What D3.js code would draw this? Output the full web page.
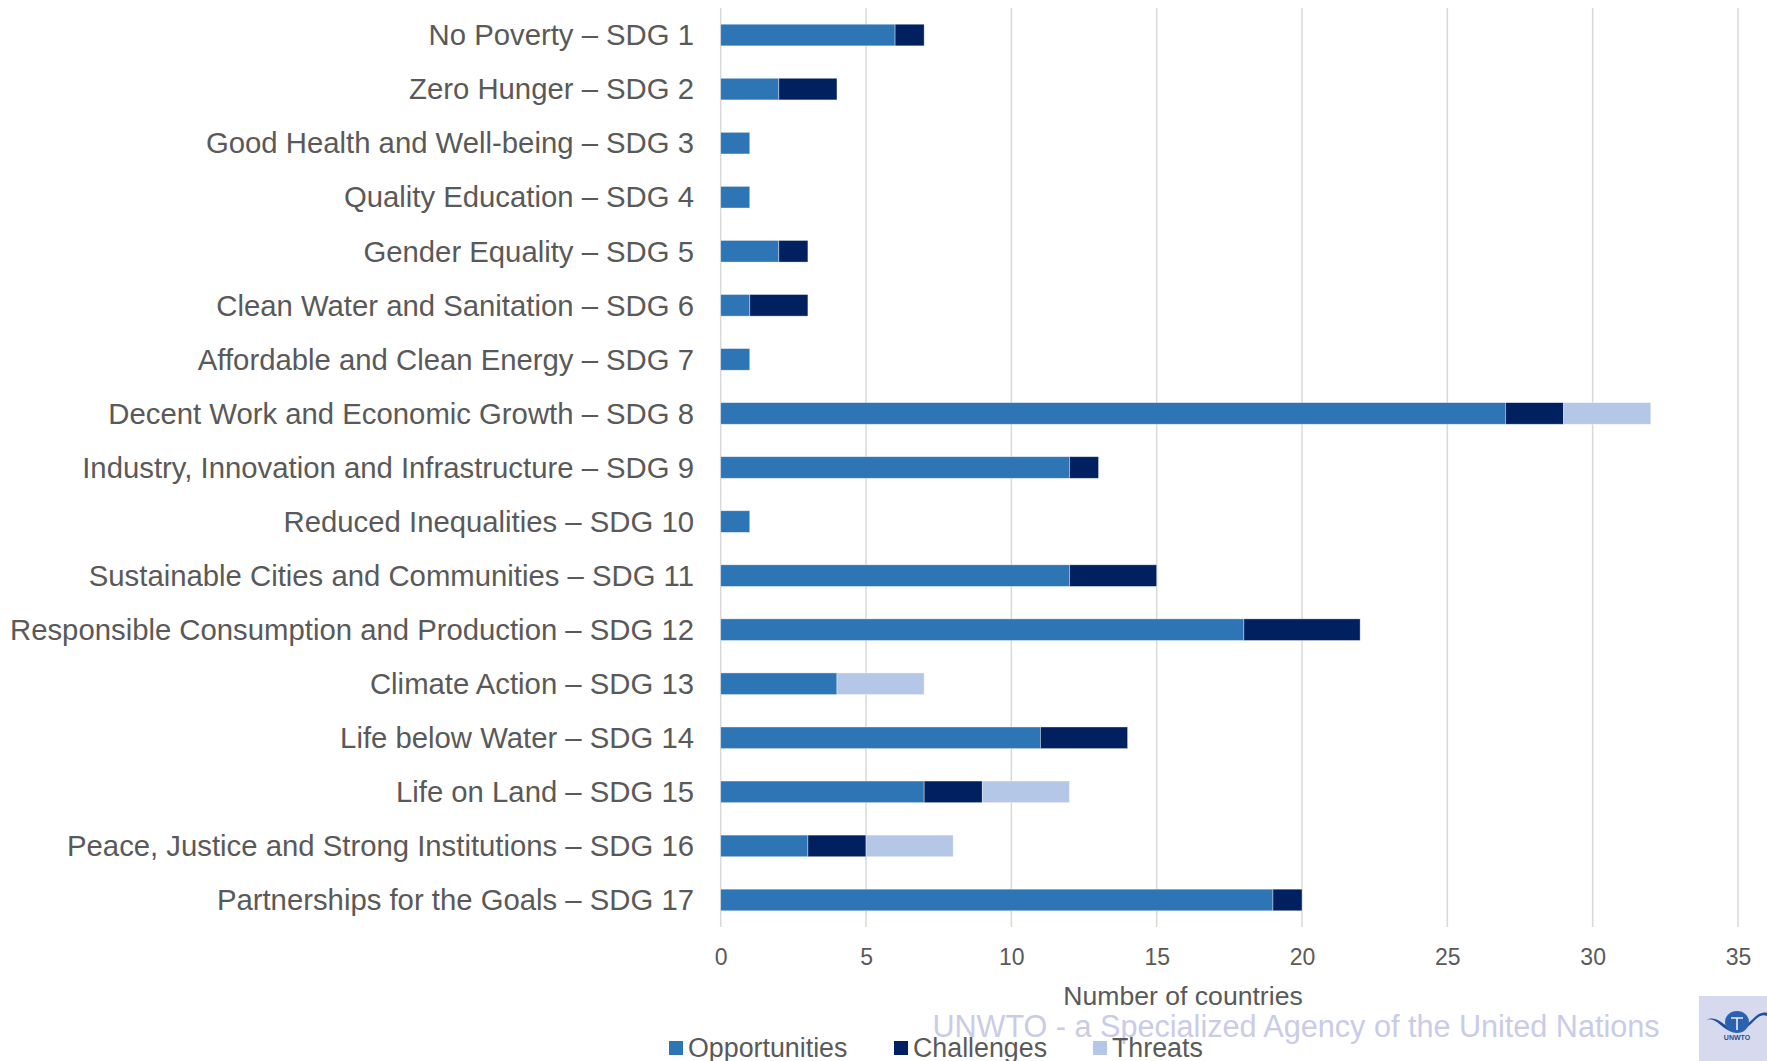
<!DOCTYPE html>
<html>
<head>
<meta charset="utf-8">
<script src="https://cdn.jsdelivr.net/npm/d3@7"></script>
<style>
  html, body { margin: 0; padding: 0; background: #fff; }
  svg { display: block; font-family: "Liberation Sans", Arial, sans-serif; }
</style>
</head>
<body>
<svg id="chart" width="1767" height="1061"></svg>
<script>
// SDG goals (top to bottom) and how many countries named each as an opportunity, challenge or threat
const goals = [
  "No Poverty – SDG 1",
  "Zero Hunger – SDG 2",
  "Good Health and Well-being – SDG 3",
  "Quality Education – SDG 4",
  "Gender Equality – SDG 5",
  "Clean Water and Sanitation – SDG 6",
  "Affordable and Clean Energy – SDG 7",
  "Decent Work and Economic Growth – SDG 8",
  "Industry, Innovation and Infrastructure – SDG 9",
  "Reduced Inequalities – SDG 10",
  "Sustainable Cities and Communities – SDG 11",
  "Responsible Consumption and Production – SDG 12",
  "Climate Action – SDG 13",
  "Life below Water – SDG 14",
  "Life on Land – SDG 15",
  "Peace, Justice and Strong Institutions – SDG 16",
  "Partnerships for the Goals – SDG 17"
];
const opportunities = [6, 2, 1, 1, 2, 1, 1, 27, 12, 1, 12, 18, 4, 11, 7, 3, 19];
const challenges    = [1, 2, 0, 0, 1, 2, 0, 2, 1, 0, 3, 4, 0, 3, 2, 2, 1];
const threats       = [0, 0, 0, 0, 0, 0, 0, 3, 0, 0, 0, 0, 3, 0, 3, 3, 0];
const seriesNames = ["Opportunities", "Challenges", "Threats"];
const seriesColors = ["#2E75B6", "#002060", "#B4C7E7"];
const xTicks = [0, 5, 10, 15, 20, 25, 30, 35];

const rows = goals.map((g, i) => ({
  goal: g,
  Opportunities: opportunities[i],
  Challenges: challenges[i],
  Threats: threats[i]
}));

const svg = d3.select("#chart");
const textColor = "#595959";

const x = d3.scaleLinear().domain([0, 35]).range([720.7, 1738]);
const y = d3.scaleBand().domain(goals).range([8, 927]).paddingInner(0.6).paddingOuter(0.3);

// vertical gridlines
svg.append("g")
  .selectAll("line")
  .data(xTicks)
  .join("line")
  .attr("x1", d => x(d)).attr("x2", d => x(d))
  .attr("y1", 8).attr("y2", 927)
  .attr("stroke", "#d9d9d9")
  .attr("stroke-width", 1.5);

// stacked bars
const stack = d3.stack().keys(seriesNames)(rows);
const color = d3.scaleOrdinal().domain(seriesNames).range(seriesColors);

svg.append("g")
  .selectAll("g")
  .data(stack)
  .join("g")
  .attr("fill", d => color(d.key))
  .selectAll("rect")
  .data(d => d.filter(s => s[1] - s[0] > 0))
  .join("rect")
  .attr("x", d => x(d[0]))
  .attr("width", d => x(d[1]) - x(d[0]))
  .attr("y", d => y(d.data.goal))
  .attr("height", y.bandwidth())
  .attr("stroke", "#ffffff")
  .attr("stroke-opacity", 0.5)
  .attr("stroke-width", 0.75);

// category labels
const yAxis = d3.axisLeft(y).tickSize(0).tickPadding(0);
const gy = svg.append("g").attr("transform", "translate(694,0)").call(yAxis);
gy.select(".domain").remove();
gy.selectAll("text")
  .attr("fill", textColor)
  .style("font-size", "29.3px")
  .attr("dy", "0.35em");

// value axis labels
const xAxis = d3.axisBottom(x).tickValues(xTicks).tickSize(0).tickPadding(0);
const gx = svg.append("g").attr("transform", "translate(0,957)").call(xAxis);
gx.select(".domain").remove();
gx.selectAll("text")
  .attr("fill", textColor)
  .attr("dy", "0.35em")
  .attr("y", 0)
  .style("font-size", "23px");

// axis title
svg.append("text")
  .attr("x", 1183).attr("y", 996)
  .attr("dy", "0.35em")
  .attr("text-anchor", "middle")
  .attr("fill", textColor)
  .style("font-size", "26.6px")
  .text("Number of countries");

// footer line
svg.append("text")
  .attr("x", 1296).attr("y", 1026)
  .attr("dy", "0.35em")
  .attr("text-anchor", "middle")
  .attr("fill", "#cacbe7")
  .style("font-size", "30.6px")
  .text("UNWTO - a Specialized Agency of the United Nations");

// legend
const legendX = [669, 894, 1093];
const legend = svg.append("g")
  .selectAll("g")
  .data(seriesNames)
  .join("g")
  .attr("transform", (d, i) => `translate(${legendX[i]},1048)`);
legend.append("rect")
  .attr("x", 0).attr("y", -7)
  .attr("width", 14).attr("height", 14)
  .attr("fill", d => color(d));
legend.append("text")
  .attr("x", 19).attr("y", 0)
  .attr("dy", "0.35em")
  .attr("fill", textColor)
  .style("font-size", "26.8px")
  .text(d => d);

// UNWTO emblem
const logo = svg.append("g");
logo.append("rect")
  .attr("x", 1699).attr("y", 996)
  .attr("width", 68).attr("height", 65)
  .attr("fill", "#d7d9ee");
logo.append("path")
  .attr("d", "M1706,1020 C1716,1016 1722,1030 1733,1032 L1733,1029 C1724,1027 1718,1014 1706,1020 Z")
  .attr("fill", "#1f4e96");
logo.append("path")
  .attr("d", "M1767,1016 C1757,1012 1751,1028 1742,1030 L1742,1027 C1750,1025 1757,1010 1767,1013 Z")
  .attr("fill", "#1f4e96");
logo.append("ellipse")
  .attr("cx", 1737).attr("cy", 1022)
  .attr("rx", 12).attr("ry", 11)
  .attr("fill", "#2b62b0");
logo.append("path")
  .attr("d", "M1731,1018 L1743,1018 M1737,1018 L1737,1030")
  .attr("stroke", "#e8ecf7").attr("stroke-width", 1.6).attr("fill", "none");
logo.append("text")
  .attr("x", 1737).attr("y", 1040)
  .attr("text-anchor", "middle")
  .attr("fill", "#1f4e96")
  .style("font-size", "7px")
  .style("font-weight", "bold")
  .text("UNWTO");
</script>
</body>
</html>
